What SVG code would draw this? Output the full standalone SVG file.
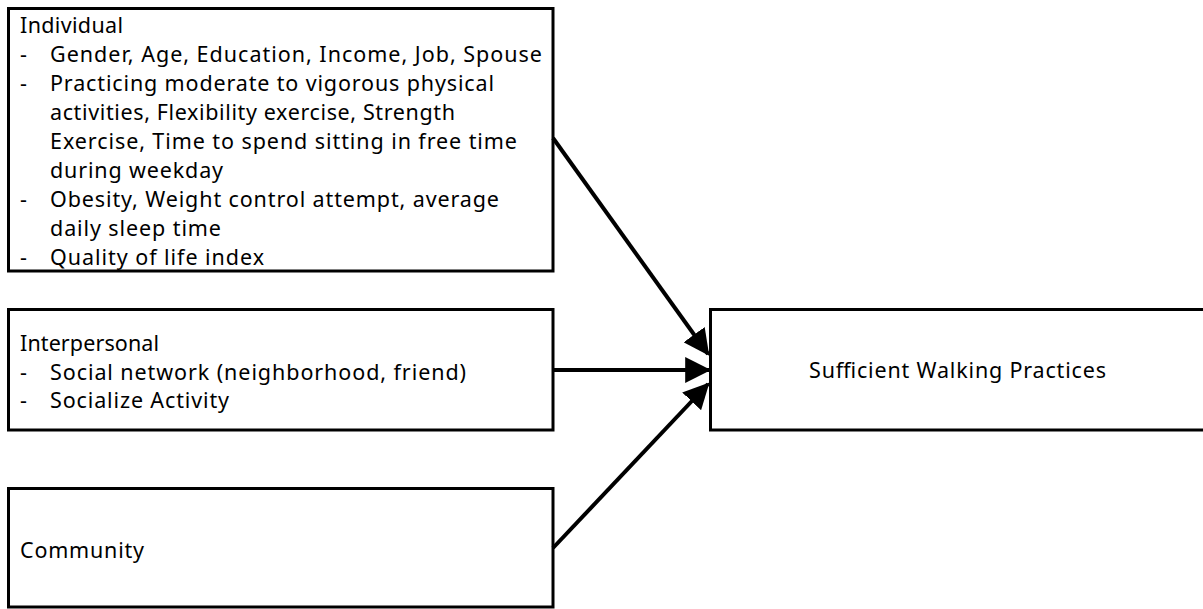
<svg xmlns="http://www.w3.org/2000/svg" width="1203" height="609" viewBox="0 0 1203 609">
<defs>
<style>
.box{fill:#fff;stroke:#000;stroke-width:3}
.t{font-family:"Noto Sans","Open Sans","DejaVu Sans",sans-serif;font-size:21.5px;fill:#000}
.c{fill:none;stroke:#000;stroke-width:4}
</style>
<marker id="ah" markerUnits="userSpaceOnUse" markerWidth="26" markerHeight="26" viewBox="0 0 24 24" refX="22" refY="12" orient="auto">
<path d="M0,0 L24,12 L0,24 Z" fill="#000"/>
</marker>
</defs>
<rect width="1203" height="609" fill="#fff"/>
<g id="individual">
<rect class="box" x="8.5" y="8.5" width="544.5" height="262.5"/>
<text class="t" x="20" y="33" textLength="103" lengthAdjust="spacing">Individual</text>
<text class="t" x="20" y="62">-</text><text class="t" x="50" y="62" textLength="492" lengthAdjust="spacing">Gender, Age, Education, Income, Job, Spouse</text>
<text class="t" x="20" y="91">-</text><text class="t" x="50" y="91" textLength="444" lengthAdjust="spacing">Practicing moderate to vigorous physical</text>
<text class="t" x="50" y="120" textLength="405" lengthAdjust="spacing">activities, Flexibility exercise, Strength</text>
<text class="t" x="50" y="149" textLength="467" lengthAdjust="spacing">Exercise, Time to spend sitting in free time</text>
<text class="t" x="50" y="178" textLength="173" lengthAdjust="spacing">during weekday</text>
<text class="t" x="20" y="207">-</text><text class="t" x="50" y="207" textLength="449" lengthAdjust="spacing">Obesity, Weight control attempt, average</text>
<text class="t" x="50" y="236" textLength="171" lengthAdjust="spacing">daily sleep time</text>
<text class="t" x="20" y="265">-</text><text class="t" x="50" y="265" textLength="214" lengthAdjust="spacing">Quality of life index</text>
</g>
<g id="interpersonal">
<rect class="box" x="8.5" y="309.5" width="544.5" height="120.5"/>
<text class="t" x="20" y="351" textLength="139" lengthAdjust="spacing">Interpersonal</text>
<text class="t" x="20" y="380">-</text><text class="t" x="50" y="380" textLength="416" lengthAdjust="spacing">Social network (neighborhood, friend)</text>
<text class="t" x="20" y="408">-</text><text class="t" x="50" y="408" textLength="179" lengthAdjust="spacing">Socialize Activity</text>
</g>
<g id="community">
<rect class="box" x="8.5" y="488.5" width="544.5" height="118.5"/>
<text class="t" x="20" y="558" textLength="124" lengthAdjust="spacing">Community</text>
</g>
<g id="walking">
<rect class="box" x="710.5" y="309.5" width="494" height="120.5"/>
<text class="t" x="809" y="378" textLength="297" lengthAdjust="spacing">Sufficient Walking Practices</text>
</g>
<g id="connectors">
<line class="c" x1="553" y1="138" x2="708" y2="354" marker-end="url(#ah)"/>
<line class="c" x1="553" y1="370" x2="709" y2="370" marker-end="url(#ah)"/>
<line class="c" x1="553" y1="548" x2="708" y2="384" marker-end="url(#ah)"/>
</g>
</svg>
